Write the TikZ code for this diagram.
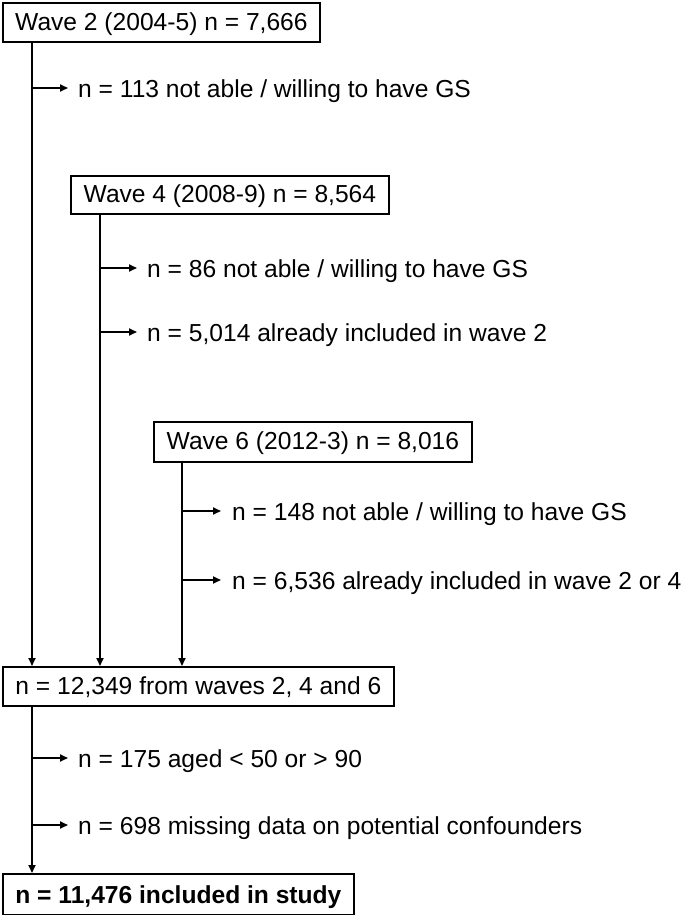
\documentclass[tikz,border=0pt]{standalone}
\usepackage{fontspec}
\setmainfont{Liberation Sans}
\usetikzlibrary{arrows.meta}
\begin{document}
\begin{tikzpicture}[x=1pt,y=-1pt,
  box/.style={draw,line width=1.8pt,anchor=north west,inner sep=0pt,align=center,
    font=\fontsize{24.6}{28}\selectfont,text height=19pt,text depth=3pt},
  lab/.style={anchor=base west,inner sep=0pt,font=\fontsize{24.6}{28}\selectfont},
  conn/.style={line width=1.8pt,-{Triangle[length=8pt,width=7pt]}}]
\useasboundingbox (0,0) rectangle (685,915);
% boxes
\node[box,minimum width=317pt,minimum height=39pt] (w2) at (2,2) {Wave 2 (2004-5) n = 7,666};
\node[box,minimum width=318pt,minimum height=38pt] (w4) at (70,175) {Wave 4 (2008-9) n = 8,564};
\node[box,minimum width=318pt,minimum height=40pt] (w6) at (153,421) {Wave 6 (2012-3) n = 8,016};
\node[box,minimum width=391pt,minimum height=39pt] (all) at (2,666) {n = 12,349 from waves 2, 4 and 6};
\node[box,minimum width=351pt,minimum height=41pt,text height=20pt,text depth=2pt,
  font=\fontsize{24.6}{28}\selectfont\bfseries] (fin) at (2,873) {n = 11,476 included in study};
% coordinates on trunks
\coordinate (t2a) at (32,41);   \coordinate (t2b) at (32,666);
\coordinate (t4a) at (100,213); \coordinate (t4b) at (100,666);
\coordinate (t6a) at (182,461); \coordinate (t6b) at (182,666);
\coordinate (tfa) at (32,705);  \coordinate (tfb) at (32,873);
% trunk arrows
\draw[conn] (t2a) -- (t2b);
\draw[conn] (t4a) -- (t4b);
\draw[conn] (t6a) -- (t6b);
\draw[conn] (tfa) -- (tfb);
% exclusion labels
\node[lab] (e1) at (78,97.5) {n = 113 not able / willing to have GS};
\node[lab] (e2) at (147,277) {n = 86 not able / willing to have GS};
\node[lab] (e3) at (147,341) {n = 5,014 already included in wave 2};
\node[lab] (e4) at (232,520) {n = 148 not able / willing to have GS};
\node[lab] (e5) at (232,589) {n = 6,536 already included in wave 2 or 4};
\node[lab] (e6) at (78,767) {n = 175 aged < 50 or > 90};
\node[lab] (e7) at (78,834) {n = 698 missing data on potential confounders};
% branch arrows
\coordinate (b1) at (32,88);   \coordinate (a1) at (68,88);
\coordinate (b2) at (100,268); \coordinate (a2) at (137,268);
\coordinate (b3) at (100,332); \coordinate (a3) at (137,332);
\coordinate (b4) at (182,511); \coordinate (a4) at (221,511);
\coordinate (b5) at (182,580); \coordinate (a5) at (221,580);
\coordinate (b6) at (32,758);  \coordinate (a6) at (68,758);
\coordinate (b7) at (32,825);  \coordinate (a7) at (68,825);
\foreach \i in {1,...,7}{\draw[conn] (b\i) -- (a\i);}
\end{tikzpicture}
\end{document}
